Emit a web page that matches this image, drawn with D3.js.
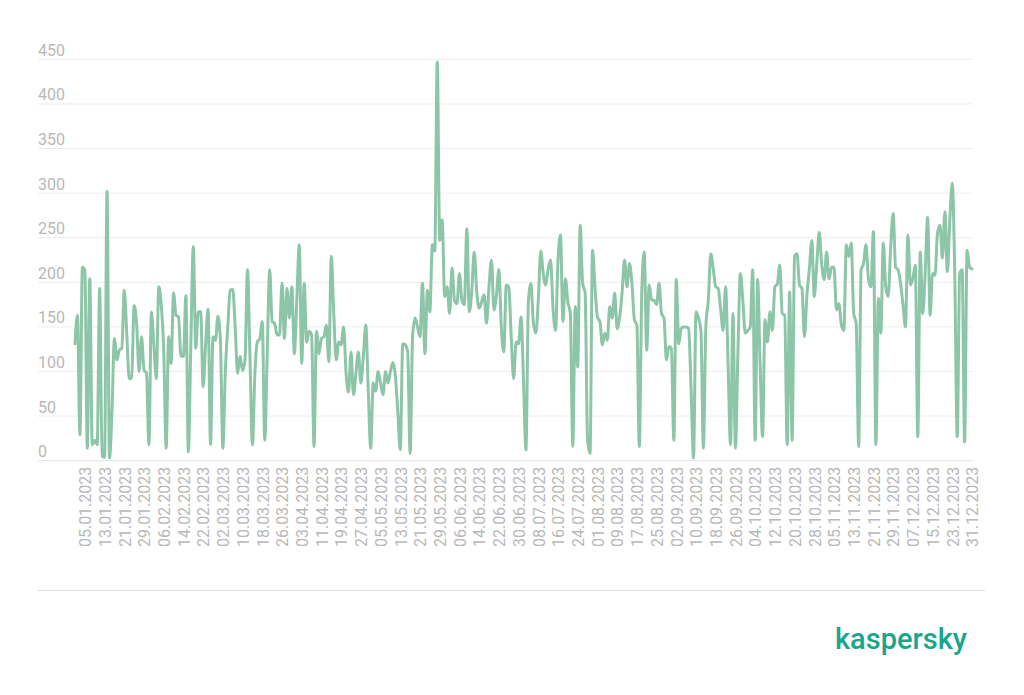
<!DOCTYPE html>
<html>
<head>
<meta charset="utf-8">
<script src="https://cdn.jsdelivr.net/npm/d3@7"></script>
<style>
  html, body { margin: 0; padding: 0; background: #ffffff; }
  svg { display: block; }
  text { font-family: Roboto, "Noto Sans", sans-serif; }
</style>
</head>
<body>
<svg id="chart" width="1024" height="695"></svg>
<script>
// ---- data ----
const startDate = "2023-01-01";
const values = [
  131, 163, 29, 217, 214, 14, 204, 18, 23, 18,
  193, 5, 4, 302, 3, 55, 137, 113, 124, 126,
  191, 143, 92, 93, 174, 154, 100, 139, 102, 98,
  18, 167, 130, 92, 195, 175, 125, 14, 139, 109,
  188, 163, 161, 117, 117, 185, 10, 130, 240, 126,
  167, 167, 83, 130, 170, 18, 139, 135, 162, 135,
  14, 100, 150, 191, 192, 150, 98, 117, 101, 113,
  214, 116, 18, 98, 133, 137, 156, 23, 120, 214,
  156, 154, 141, 141, 199, 137, 193, 160, 195, 120,
  180, 242, 109, 199, 133, 145, 141, 16, 145, 120,
  137, 139, 152, 111, 229, 165, 113, 133, 130, 150,
  98, 77, 122, 74, 98, 122, 87, 117, 152, 79,
  14, 87, 78, 100, 87, 74, 100, 87, 100, 110,
  95, 55, 12, 131, 130, 122, 8, 140, 160, 150,
  139, 199, 120, 191, 167, 242, 235, 447, 247, 270,
  184, 195, 165, 216, 180, 176, 210, 180, 175, 260,
  167, 190, 234, 190, 171, 178, 186, 154, 195, 225,
  169, 185, 214, 150, 122, 197, 195, 140, 92, 133,
  131, 161, 90, 12, 180, 199, 155, 143, 180, 235,
  210, 197, 215, 225, 170, 146, 225, 253, 156, 204,
  178, 165, 16, 173, 105, 264, 199, 188, 23, 8,
  236, 195, 161, 156, 130, 143, 135, 173, 160, 188,
  148, 161, 188, 225, 195, 221, 199, 158, 152, 16,
  190, 234, 124, 197, 180, 180, 175, 199, 165, 160,
  113, 128, 126, 23, 203, 131, 148, 150, 150, 148,
  80, 3, 167, 160, 146, 14, 150, 180, 232, 215,
  195, 193, 170, 146, 195, 110, 18, 165, 14, 120,
  210, 180, 143, 146, 150, 214, 23, 203, 110, 27,
  158, 133, 167, 146, 195, 198, 219, 165, 163, 18,
  189, 23, 229, 232, 197, 193, 139, 185, 215, 247,
  184, 220, 256, 220, 203, 234, 204, 217, 217, 169,
  176, 152, 146, 242, 229, 244, 165, 154, 16, 214,
  221, 242, 203, 195, 257, 18, 182, 143, 244, 195,
  184, 240, 277, 217, 214, 199, 175, 150, 253, 197,
  204, 219, 27, 234, 165, 210, 273, 163, 210, 208,
  255, 264, 227, 279, 212, 270, 311, 210, 27, 210,
  214, 21, 236, 217, 215
];
const xTickLabels = [
  "05.01.2023","13.01.2023","21.01.2023","29.01.2023","06.02.2023","14.02.2023",
  "22.02.2023","02.03.2023","10.03.2023","18.03.2023","26.03.2023","03.04.2023",
  "11.04.2023","19.04.2023","27.04.2023","05.05.2023","13.05.2023","21.05.2023",
  "29.05.2023","06.06.2023","14.06.2023","22.06.2023","30.06.2023","08.07.2023",
  "16.07.2023","24.07.2023","01.08.2023","09.08.2023","17.08.2023","25.08.2023",
  "02.09.2023","10.09.2023","18.09.2023","26.09.2023","04.10.2023","12.10.2023",
  "20.10.2023","28.10.2023","05.11.2023","13.11.2023","21.11.2023","29.11.2023",
  "07.12.2023","15.12.2023","23.12.2023","31.12.2023"
];
const yTicks = [0, 50, 100, 150, 200, 250, 300, 350, 400, 450];
const brandText = "kaspersky";

// ---- build ----
const parseISO = d3.utcParse("%Y-%m-%d");
const parseLabel = d3.utcParse("%d.%m.%Y");
const fmt = d3.utcFormat("%d.%m.%Y");
const start = parseISO(startDate);
const dates = d3.utcDay.range(start, d3.utcDay.offset(start, values.length));
const data = dates.map((d, i) => ({ date: d, value: values[i] }));

const svg = d3.select("#chart");
const x = d3.scaleUtc().domain([dates[0], dates[dates.length - 1]]).range([75, 972]);
const y = d3.scaleLinear().domain([0, 450]).range([460.7, 59.3]);

// grid
const grid = svg.append("g");
grid.selectAll("line").data(yTicks).join("line")
  .attr("x1", 38).attr("x2", 972.5)
  .attr("y1", d => y(d)).attr("y2", d => y(d))
  .attr("stroke", d => d === 0 ? "#e2e2e2" : "#ededed")
  .attr("stroke-width", 1);

// y labels
svg.append("g").selectAll("text").data(yTicks).join("text")
  .attr("x", 38).attr("y", d => y(d) - 3.5)
  .attr("font-size", 16).attr("fill", "#b8b8b8")
  .text(d => d);

// x axis
const xAxis = d3.axisBottom(x)
  .tickValues(xTickLabels.map(parseLabel))
  .tickSize(0)
  .tickFormat(fmt);
const gx = svg.append("g").attr("transform", `translate(0,${y(0)})`).call(xAxis);
gx.select(".domain").remove();
gx.selectAll("text")
  .attr("font-family", "Roboto, sans-serif")
  .attr("font-size", 16)
  .attr("fill", "#b8b8b8")
  .attr("text-anchor", "end")
  .attr("transform", "rotate(-90)")
  .attr("x", -6)
  .attr("y", 0)
  .attr("dy", "0.36em");

// line
const line = d3.line()
  .x(d => x(d.date))
  .y(d => y(d.value))
  .curve(d3.curveMonotoneX);
svg.append("path").datum(data)
  .attr("d", line)
  .attr("fill", "none")
  .attr("stroke", "#8dc5a8")
  .attr("stroke-width", 3)
  .attr("stroke-linejoin", "round")
  .attr("stroke-linecap", "round");

// bottom rule
svg.append("line")
  .attr("x1", 38).attr("x2", 985).attr("y1", 590.5).attr("y2", 590.5)
  .attr("stroke", "#e0e0e0").attr("stroke-width", 1);

// brand
svg.append("text")
  .attr("x", 835).attr("y", 649)
  .attr("font-family", "'Open Sans', sans-serif")
  .attr("font-size", 29)
  .attr("font-weight", 500)
  .attr("fill", "#1aa68b")
  .text(brandText);
</script>
</body>
</html>
